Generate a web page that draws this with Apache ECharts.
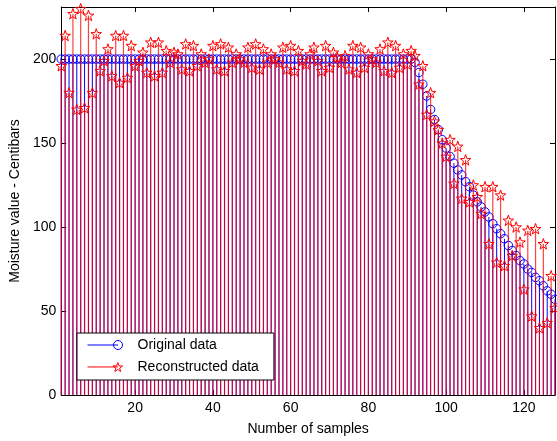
<!DOCTYPE html>
<html><head><meta charset="utf-8">
<script src="https://cdn.jsdelivr.net/npm/echarts@6/dist/echarts.min.js"></script>
<style>html,body{margin:0;padding:0;background:#fff}#c{width:557px;height:441px}</style>
</head><body><div id="c"></div>
<script>
// x positions are sample numbers 1..128 (index + 1)
const originalData = [
200,200,200,200,200,200,200,200,200,200,
200,200,200,200,200,200,200,200,200,200,
200,200,200,200,200,200,200,200,200,200,
200,200,200,200,200,200,200,200,200,200,
200,200,200,200,200,200,200,200,200,200,
200,200,200,200,200,200,200,200,200,200,
200,200,200,200,200,200,200,200,200,200,
200,200,200,200,200,200,200,200,200,200,
200,200,200,200,200,200,200,200,200,200,
200,198,192,185,178,170,164,158,152,147,
142,138,134,131,127,124,119,115,112,109,
106,102,99,96,93,89,86,83,80,78,
75,73,70,68,65,62,60,57
];
const reconstructedData = [
196,214,180,227,170,230,171,226,180,215,
193,199,206,190,214,186,214,189,208,196,
199,204,192,210,190,210,192,205,198,204,
203,194,209,193,208,196,203,198,200,208,
194,209,193,207,198,203,200,198,207,195,
209,194,206,198,203,200,198,207,194,208,
193,205,199,197,203,207,199,193,208,195,
204,201,198,202,194,208,192,207,195,203,
200,198,206,193,210,192,208,195,203,197,
205,202,185,196,167,180,163,158,150,142,
152,126,148,117,140,115,125,118,108,124,
90,124,79,119,77,104,83,100,91,63,
98,47,99,40,90,43,71,52
];
const xTickLabels = [20,40,60,80,100,120];
const yTickLabels = [0,50,100,150,200];
const seriesNames = ['Original data','Reconstructed data'];

const toPts = arr => arr.map((v,i)=>[i+1,v]);
const STAR = 'path://M35,0 L36.18,3.38 L39.76,3.45 L36.9,5.62 L37.94,9.05 L35,7 L32.06,9.05 L33.1,5.62 L30.24,3.45 L33.82,3.38 Z';
const STAR_LEG = 'path://M0,4.5 L30.5,4.5 M30.5,0 L31.68,3.38 L35.26,3.45 L32.4,5.62 L33.44,9.05 L30.5,7 L27.56,9.05 L28.6,5.62 L25.74,3.45 L29.32,3.38 Z';
const CIRC_LEG = 'path://M0,4.5 L30.5,4.5 M35,4.5 A4.5,4.5 0 1,1 26,4.5 A4.5,4.5 0 1,1 35,4.5';

function stem(color, width) {
  return function(params, api){
    const x = api.value(0), y = api.value(1);
    const p0 = api.coord([x,0]), p1 = api.coord([x,y]);
    return {type:'line', shape:{x1:p0[0],y1:p0[1],x2:p1[0],y2:p1[1]},
      style:{stroke:color, lineWidth:width}};
  };
}
const FONT = 'Liberation Sans, Arial, sans-serif';
const FS = 14;
const chart = echarts.init(document.getElementById('c'), null, {renderer:'canvas'});
const axisCommon = {
  axisLine:{show:true, onZero:false, lineStyle:{color:'#000', width:1}},
  splitLine:{show:false}
};
chart.setOption({
  animation:false,
  backgroundColor:'#fff',
  textStyle:{fontFamily:FONT},
  grid:{left:60.5, right:2, top:7, bottom:44, containLabel:false},
  xAxis:[
    Object.assign({type:'value', min:1, max:128, position:'bottom',
      name:'Number of samples', nameLocation:'middle', nameGap:27,
      nameTextStyle:{fontSize:FS, color:'#000', fontFamily:FONT},
      axisLabel:{customValues:xTickLabels, margin:6, fontSize:FS, color:'#000', fontFamily:FONT},
      axisTick:{show:true, inside:true, length:5, customValues:xTickLabels, lineStyle:{color:'#000'}}}, axisCommon),
    Object.assign({type:'value', min:1, max:128, position:'top',
      axisLabel:{show:false},
      axisTick:{show:true, inside:true, length:5, customValues:xTickLabels, lineStyle:{color:'#000'}}}, axisCommon)
  ],
  yAxis:[
    Object.assign({type:'value', min:0, max:231, position:'left',
      name:'Moisture value - Centibars', nameLocation:'middle', nameGap:35,
      nameTextStyle:{fontSize:FS, color:'#000', fontFamily:FONT},
      axisLabel:{customValues:yTickLabels, margin:5, fontSize:FS, color:'#000', fontFamily:FONT},
      axisTick:{show:true, inside:true, length:5, customValues:yTickLabels, lineStyle:{color:'#000'}}}, axisCommon),
    Object.assign({type:'value', min:0, max:231, position:'right',
      axisLabel:{show:false},
      axisTick:{show:true, inside:true, length:5, customValues:yTickLabels, lineStyle:{color:'#000'}}}, axisCommon)
  ],
  legend:{
    orient:'vertical', left:77, top:333,
    backgroundColor:'#fff', borderColor:'#000', borderWidth:1, borderRadius:0,
    padding:[5,15,6,10], itemGap:8, itemWidth:35, itemHeight:9,
    textStyle:{fontSize:FS, color:'#000', fontFamily:FONT, padding:[0,0,0,10]},
    data:[
      {name:seriesNames[0], icon:CIRC_LEG, itemStyle:{color:'rgba(0,0,0,0)', borderColor:'#0000ff', borderWidth:1}},
      {name:seriesNames[1], icon:STAR_LEG, itemStyle:{color:'rgba(0,0,0,0)', borderColor:'#ff0000', borderWidth:1}}
    ]
  },
  series:[
    {type:'custom', name:'origStem', renderItem:stem('#0000ff',1), data:toPts(originalData), z:1, silent:true},
    {type:'scatter', name:seriesNames[0], data:toPts(originalData), symbol:'circle', symbolSize:8.5,
      itemStyle:{color:'rgba(0,0,0,0)', borderColor:'#0000ff', borderWidth:1, opacity:1}, z:2},
    {type:'custom', name:'reconStem', renderItem:stem('rgba(255,0,0,0.75)',1.2), data:toPts(reconstructedData), z:3, silent:true},
    {type:'scatter', name:seriesNames[1], data:toPts(reconstructedData), symbol:STAR, symbolSize:10.5,
      itemStyle:{color:'rgba(0,0,0,0)', borderColor:'#ff0000', borderWidth:1, opacity:1}, z:4}
  ]
});
</script></body></html>
